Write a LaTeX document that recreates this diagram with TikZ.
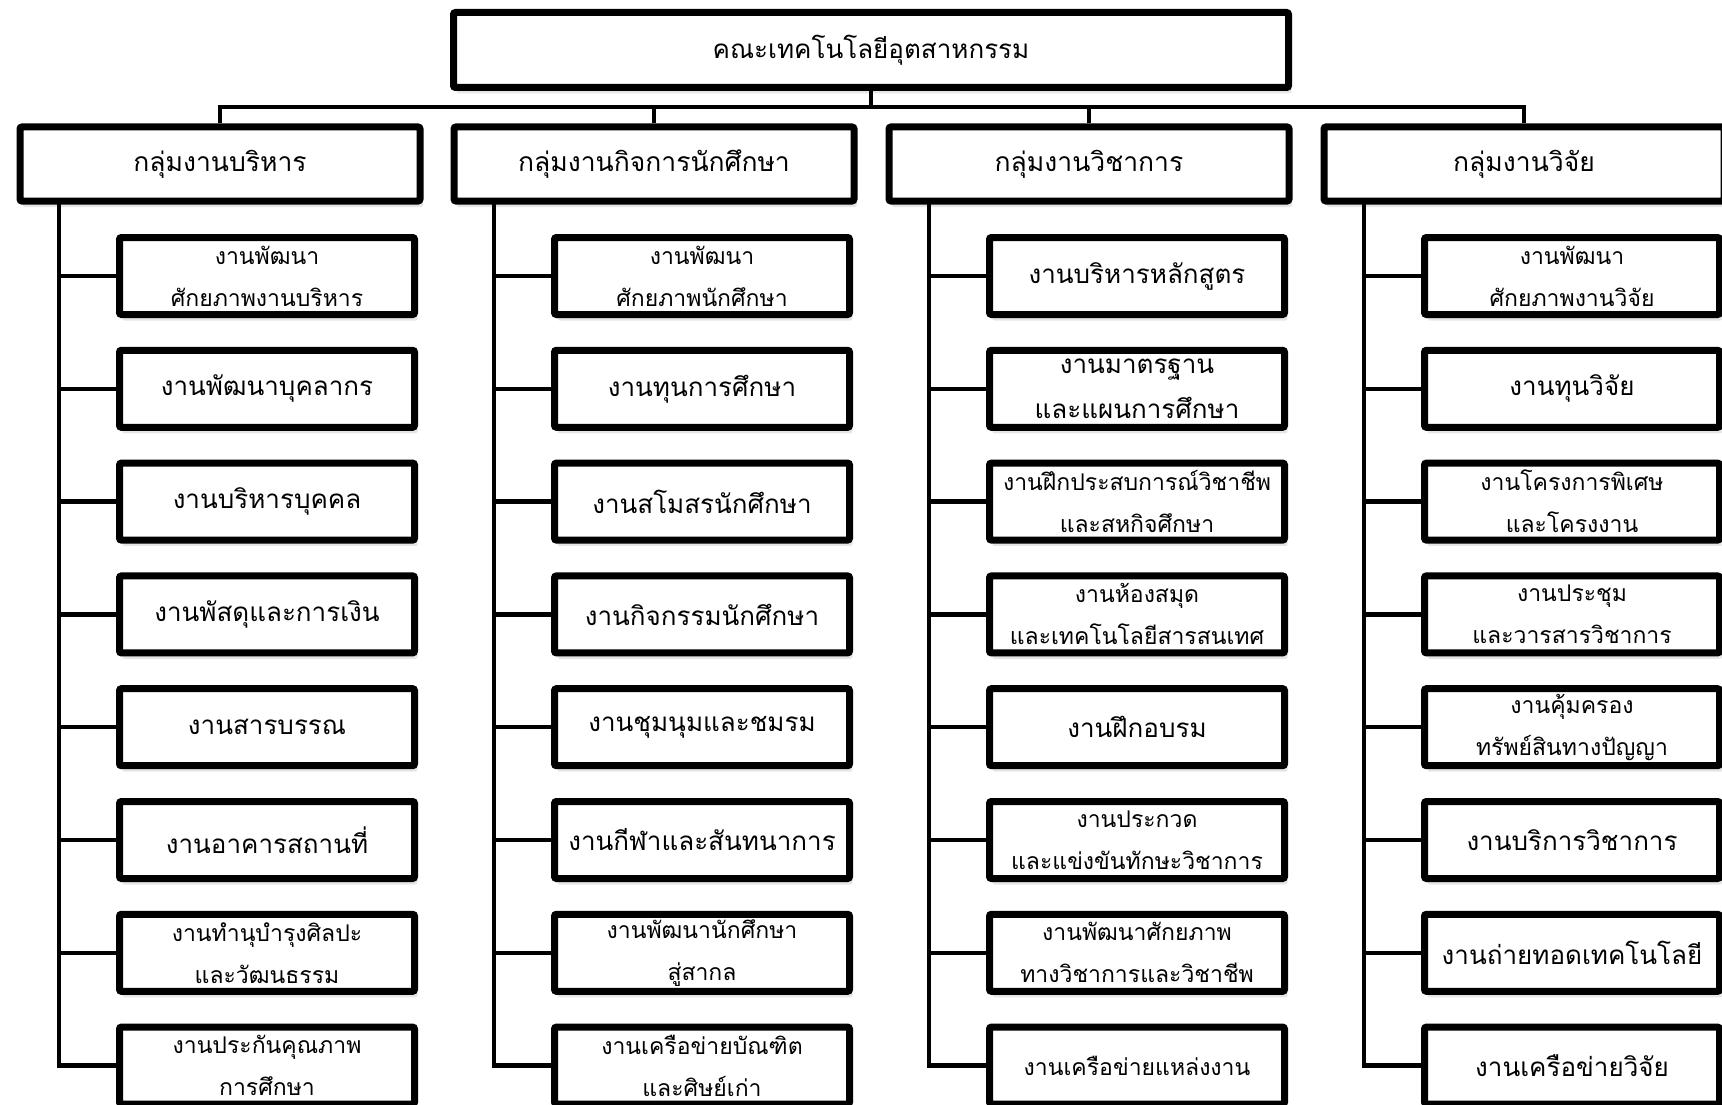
\documentclass[tikz,border=0pt]{standalone}
\usepackage{fontspec}
\newfontfamily\thaifont[Script=Thai]{Loma}
\usetikzlibrary{positioning}
\usetikzlibrary{shadows}

\begin{document}
\begin{tikzpicture}[x=1pt,y=-1pt,
  node distance=28.8pt,
  top_box/.style={rectangle,draw,line width=7pt,fill=white,rounded corners=2pt,inner sep=0pt,minimum width=835pt,minimum height=75pt,font=\thaifont\fontsize{26}{32}\selectfont,drop shadow={shadow xshift=3pt,shadow yshift=-6pt,opacity=0.2}},
  group_box/.style={top_box,minimum width=400pt,minimum height=74pt,font=\thaifont\fontsize{26.5}{32}\selectfont},
  unit_box/.style={top_box,minimum width=295pt,minimum height=77pt},
  unit_two/.style={unit_box,align=center,font=\thaifont\fontsize{23}{42}\selectfont},
  unit_two_big/.style={unit_box,align=center,font=\thaifont\fontsize{26}{45}\selectfont},
  unit_small/.style={unit_box,font=\thaifont\fontsize{23}{30}\selectfont},
  conn/.style={line width=4.5pt}
  ]

\useasboundingbox (0,0) rectangle (1722,1105);

% faculty
\node[top_box] (fac) at (871,50) {คณะเทคโนโลยีอุตสาหกรรม};

% groups
\node[group_box] (admin) at (220,164) {กลุ่มงานบริหาร};
\node[group_box] (student) at (654,164) {กลุ่มงานกิจการนักศึกษา};
\node[group_box] (academic) at (1089,164) {กลุ่มงานวิชาการ};
\node[group_box] (research) at (1524,164) {กลุ่มงานวิจัย};

% units of admin
\node[unit_two] (admin1) at (267,276) {งานพัฒนา\\ศักยภาพงานบริหาร};
\node[unit_box,below=of admin1] (admin2) {งานพัฒนาบุคลากร};
\node[unit_box,below=of admin2] (admin3) {งานบริหารบุคคล};
\node[unit_box,below=of admin3] (admin4) {งานพัสดุและการเงิน};
\node[unit_box,below=of admin4] (admin5) {งานสารบรรณ};
\node[unit_box,below=of admin5] (admin6) {งานอาคารสถานที่};
\node[unit_two,below=of admin6] (admin7) {งานทำนุบำรุงศิลปะ\\และวัฒนธรรม};
\node[unit_two,below=of admin7] (admin8) {งานประกันคุณภาพ\\การศึกษา};

% units of student affairs
\node[unit_two] (student1) at (702,276) {งานพัฒนา\\ศักยภาพนักศึกษา};
\node[unit_box,below=of student1] (student2) {งานทุนการศึกษา};
\node[unit_box,below=of student2] (student3) {งานสโมสรนักศึกษา};
\node[unit_box,below=of student3] (student4) {งานกิจกรรมนักศึกษา};
\node[unit_box,below=of student4] (student5) {งานชุมนุมและชมรม};
\node[unit_box,below=of student5] (student6) {งานกีฬาและสันทนาการ};
\node[unit_two,below=of student6] (student7) {งานพัฒนานักศึกษา\\สู่สากล};
\node[unit_two,below=of student7] (student8) {งานเครือข่ายบัณฑิต\\และศิษย์เก่า};

% units of academic affairs
\node[unit_box] (academic1) at (1137,276) {งานบริหารหลักสูตร};
\node[unit_two_big,below=of academic1] (academic2) {งานมาตรฐาน\\และแผนการศึกษา};
\node[unit_two,below=of academic2] (academic3) {งานฝึกประสบการณ์วิชาชีพ\\และสหกิจศึกษา};
\node[unit_two,below=of academic3] (academic4) {งานห้องสมุด\\และเทคโนโลยีสารสนเทศ};
\node[unit_box,below=of academic4] (academic5) {งานฝึกอบรม};
\node[unit_two,below=of academic5] (academic6) {งานประกวด\\และแข่งขันทักษะวิชาการ};
\node[unit_two,below=of academic6] (academic7) {งานพัฒนาศักยภาพ\\ทางวิชาการและวิชาชีพ};
\node[unit_small,below=of academic7] (academic8) {งานเครือข่ายแหล่งงาน};

% units of research
\node[unit_two] (research1) at (1572,276) {งานพัฒนา\\ศักยภาพงานวิจัย};
\node[unit_box,below=of research1] (research2) {งานทุนวิจัย};
\node[unit_two,below=of research2] (research3) {งานโครงการพิเศษ\\และโครงงาน};
\node[unit_two,below=of research3] (research4) {งานประชุม\\และวารสารวิชาการ};
\node[unit_two,below=of research4] (research5) {งานคุ้มครอง\\ทรัพย์สินทางปัญญา};
\node[unit_box,below=of research5] (research6) {งานบริการวิชาการ};
\node[unit_box,below=of research6] (research7) {งานถ่ายทอดเทคโนโลยี};
\node[unit_box,below=of research7] (research8) {งานเครือข่ายวิจัย};

% bus
\coordinate (bus) at (871,107);
\draw[conn] (fac.south) -- (bus);
\draw[conn] (admin.north) |- (bus) -| (research.north);
\draw[conn] (student.north) -- (student.north |- bus);
\draw[conn] (academic.north) -- (academic.north |- bus);

% spines
\coordinate (admin_spine) at (59,200);
\coordinate (student_spine) at (494,200);
\coordinate (academic_spine) at (929,200);
\coordinate (research_spine) at (1364,200);
\draw[conn] (admin_spine) |- (admin8.west);
\draw[conn] (student_spine) |- (student8.west);
\draw[conn] (academic_spine) |- (academic8.west);
\draw[conn] (research_spine) |- (research8.west);

% branches
\draw[conn] (admin1.west) -- (admin1.west -| admin_spine);
\draw[conn] (admin2.west) -- (admin2.west -| admin_spine);
\draw[conn] (admin3.west) -- (admin3.west -| admin_spine);
\draw[conn] (admin4.west) -- (admin4.west -| admin_spine);
\draw[conn] (admin5.west) -- (admin5.west -| admin_spine);
\draw[conn] (admin6.west) -- (admin6.west -| admin_spine);
\draw[conn] (admin7.west) -- (admin7.west -| admin_spine);

\draw[conn] (student1.west) -- (student1.west -| student_spine);
\draw[conn] (student2.west) -- (student2.west -| student_spine);
\draw[conn] (student3.west) -- (student3.west -| student_spine);
\draw[conn] (student4.west) -- (student4.west -| student_spine);
\draw[conn] (student5.west) -- (student5.west -| student_spine);
\draw[conn] (student6.west) -- (student6.west -| student_spine);
\draw[conn] (student7.west) -- (student7.west -| student_spine);

\draw[conn] (academic1.west) -- (academic1.west -| academic_spine);
\draw[conn] (academic2.west) -- (academic2.west -| academic_spine);
\draw[conn] (academic3.west) -- (academic3.west -| academic_spine);
\draw[conn] (academic4.west) -- (academic4.west -| academic_spine);
\draw[conn] (academic5.west) -- (academic5.west -| academic_spine);
\draw[conn] (academic6.west) -- (academic6.west -| academic_spine);
\draw[conn] (academic7.west) -- (academic7.west -| academic_spine);

\draw[conn] (research1.west) -- (research1.west -| research_spine);
\draw[conn] (research2.west) -- (research2.west -| research_spine);
\draw[conn] (research3.west) -- (research3.west -| research_spine);
\draw[conn] (research4.west) -- (research4.west -| research_spine);
\draw[conn] (research5.west) -- (research5.west -| research_spine);
\draw[conn] (research6.west) -- (research6.west -| research_spine);
\draw[conn] (research7.west) -- (research7.west -| research_spine);

\end{tikzpicture}
\end{document}
